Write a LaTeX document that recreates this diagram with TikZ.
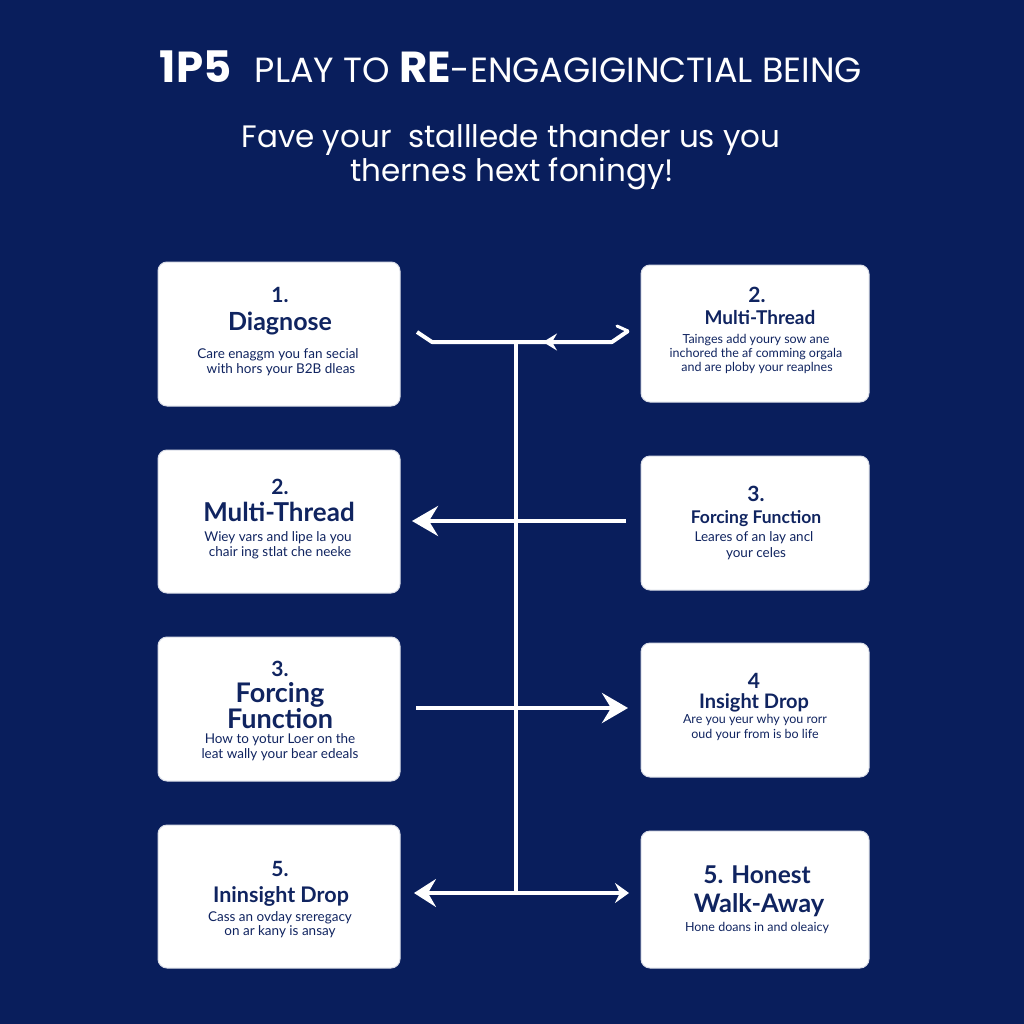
\documentclass[tikz,border=0pt]{standalone}
\usepackage{fontspec}
\setmainfont{Lato}
\newfontfamily\titlefont{Poppins}
\usetikzlibrary{arrows.meta}
\definecolor{bg}{RGB}{9,30,92}
\definecolor{ink}{RGB}{16,36,96}
\tikzset{
  card/.style={fill=white, draw=white!85!bg, rounded corners=9pt, line width=1pt, inner sep=0pt},
  num/.style={anchor=base, text=ink, inner sep=0pt, font=\fontsize{21}{24}\selectfont\bfseries},
  head/.style={anchor=base, text=ink, inner sep=0pt, font=\bfseries},
  body/.style={anchor=base, text=ink, inner sep=0pt, font=\fontsize{13.5}{15}\selectfont},
  smallbody/.style={body, font=\fontsize{12.5}{14}\selectfont},
  conn/.style={draw=white, line width=4pt},
  bigtip/.style={-{Stealth[length=26pt,width=30pt,inset=9pt]}},
  subtitle/.style={anchor=base, text=white, inner sep=0pt, font=\titlefont\fontsize{31}{34}\selectfont},
}
\begin{document}
\begin{tikzpicture}[x=1pt,y=-1pt]
\fill[bg] (0,0) rectangle (1024,1024);
\useasboundingbox (0,0) rectangle (1024,1024);

% title
\node[anchor=base, text=white, inner sep=0pt] (title) at (511,83)
  {\resizebox{702pt}{!}{\titlefont\fontsize{36}{40}\selectfont\bfseries 1P5\mdseries\ \ \fontsize{29}{32}\selectfont PLAY TO \fontsize{36}{40}\selectfont\bfseries RE\mdseries\fontsize{29}{32}\selectfont -ENGAGIGINCTIAL BEING}};
\node[subtitle] (sub1) at (511,148) {Fave your\ \ stalllede thander us you};
\node[subtitle] (sub2) at (512,182) {thernes hext foningy!};

% cards
\node[card, minimum width=242pt, minimum height=144pt] (L1) at (279,334) {};
\node[card, minimum width=228pt, minimum height=137pt] (R1) at (755,333.5) {};
\node[card, minimum width=242pt, minimum height=143pt] (L2) at (279,521.5) {};
\node[card, minimum width=228pt, minimum height=134pt] (R2) at (755,523) {};
\node[card, minimum width=242pt, minimum height=144pt] (L3) at (279,709) {};
\node[card, minimum width=228pt, minimum height=134pt] (R3) at (755,710) {};
\node[card, minimum width=242pt, minimum height=143pt] (L4) at (279,896.5) {};
\node[card, minimum width=228pt, minimum height=137pt] (R4) at (755,899.5) {};

% L1
\node[num] (l1n) at (280,302) {1.};
\node[head, font=\fontsize{25}{28}\selectfont\bfseries] (l1h) at (280,330) {Diagnose};
\node[body] (l1a) at (278,358) {Care enaggm you fan secial};
\node[body] (l1b) at (281,373) {with hors your B2B dleas};
% R1
\node[num] (r1n) at (757,302) {2.};
\node[head, font=\fontsize{19}{21}\selectfont\bfseries] (r1h) at (760,324) {Multi-Thread};
\node[smallbody] (r1a) at (756,343) {Tainges add youry sow ane};
\node[smallbody] (r1b) at (756,357) {inchored the af comming orgala};
\node[smallbody] (r1c) at (757,371) {and are ploby your reaplnes};
% L2
\node[num] (l2n) at (280,494) {2.};
\node[head, font=\fontsize{26}{29}\selectfont\bfseries] (l2h) at (279,521) {Multi-Thread};
\node[body] (l2a) at (278,541) {Wiey vars and lipe la you};
\node[body] (l2b) at (280,556) {chair ing stlat che neeke};
% R2
\node[num] (r2n) at (756,501) {3.};
\node[head, font=\fontsize{17.5}{20}\selectfont\bfseries] (r2h) at (756,523) {Forcing Function};
\node[body] (r2a) at (754,541) {Leares of an lay ancl};
\node[body] (r2b) at (756,557) {your celes};
% L3
\node[num] (l3n) at (280,676) {3.};
\node[head, font=\fontsize{27}{30}\selectfont\bfseries] (l3h) at (280,702) {Forcing};
\node[head, font=\fontsize{27}{30}\selectfont\bfseries] (l3i) at (280,728) {Function};
\node[body] (l3a) at (280,743) {How to yotur Loer on the};
\node[body] (l3b) at (280,758) {leat wally your bear edeals};
% R3
\node[num] (r3n) at (754,688) {4};
\node[head, font=\fontsize{20}{22}\selectfont\bfseries] (r3h) at (754,708) {Insight Drop};
\node[smallbody] (r3a) at (755,723) {Are you yeur why you rorr};
\node[smallbody] (r3b) at (755,738) {oud your from is bo life};
% L4
\node[num] (l4n) at (280,876) {5.};
\node[head, font=\fontsize{21.5}{24}\selectfont\bfseries] (l4h) at (281,902) {Ininsight Drop};
\node[body] (l4a) at (280,921) {Cass an ovday sreregacy};
\node[body] (l4b) at (280,935) {on ar kany is ansay};
% R4
\node[head, font=\fontsize{24.5}{27}\selectfont\bfseries] (r4h) at (757,883) {5. Honest};
\node[head, font=\fontsize{25.5}{28}\selectfont\bfseries] (r4i) at (759,912) {Walk-Away};
\node[smallbody] (r4a) at (757,931) {Hone doans in and oleaicy};

% connectors
\coordinate (t1) at (417,332);
\coordinate (t2) at (432,342);
\coordinate (t3) at (612,342);
\coordinate (t4) at (628,331);
\coordinate (tb) at (617,326);
\coordinate (ma) at (562,342);
\coordinate (mb) at (543,342);
\coordinate (vtop) at (516,342);
\coordinate (vbot) at (516,893);
\coordinate (a2s) at (626,521);
\coordinate (a2e) at (412,521);
\coordinate (a3s) at (416,708);
\coordinate (a3e) at (628,708);
\coordinate (a4s) at (414,893);
\coordinate (a4e) at (629,893);

\draw[conn, line width=3.5pt] (vtop) -- (vbot);
\draw[conn, line join=round] (t1) -- (t2) -- (t3) -- (t4);
\draw[conn, line width=3pt, line cap=round] (tb) -- (t4);
\draw[conn, -{Stealth[length=14pt,width=17pt,inset=5pt]}] (ma) -- (mb);
\draw[conn, bigtip] (a2s) -- (a2e);
\draw[conn, bigtip] (a3s) -- (a3e);
\draw[conn, {Stealth[length=22pt,width=28pt,inset=8pt]}-{Stealth[length=14pt,width=20pt,inset=5pt]}] (a4s) -- (a4e);
\end{tikzpicture}
\end{document}
